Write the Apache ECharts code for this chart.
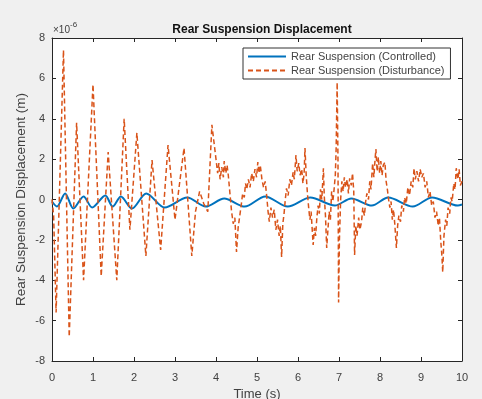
<!DOCTYPE html>
<html>
<head>
<meta charset="utf-8">
<script src="https://cdn.jsdelivr.net/npm/echarts@6/dist/echarts.min.js"></script>
<style>
  html, body { margin: 0; padding: 0; background: #f0f0f0; }
  #chart { width: 482px; height: 399px; }
</style>
</head>
<body>
<div id="chart"></div>
<script>
// values are in units of 1e-6 m (axis shows x10^-6)
const controlledT = [0, 0.12, 0.32, 0.52, 0.77, 0.98, 1.3, 1.48, 1.68, 1.95, 2.3, 2.75, 3.3, 3.75, 4.2, 4.7, 5.2, 5.75, 6.3, 6.9, 7.3, 7.8, 8.2, 8.8, 9.27, 9.9, 10];
const controlledV = [-0.1, -0.35, 0.3, -0.45, 0.15, -0.4, 0.2, -0.35, 0.15, -0.45, 0.3, -0.4, 0.1, -0.35, 0.05, -0.35, 0.15, -0.35, 0.1, -0.3, 0.05, -0.3, 0.1, -0.35, 0.1, -0.3, -0.25];

const disturbT = [0, 0.04, 0.1, 0.28, 0.42, 0.6, 0.77, 1.0, 1.2, 1.37, 1.58, 1.76, 1.9, 2.07, 2.29, 2.44, 2.65, 2.83, 3.0, 3.22, 3.41, 3.5, 3.6, 3.7, 3.8, 3.9,
  4.0, 4.04, 4.07, 4.1, 4.14, 4.18, 4.2, 4.24, 4.27, 4.3, 4.34, 4.38, 4.42, 4.46, 4.5, 4.54, 4.58, 4.62, 4.65, 4.69, 4.72, 4.75, 4.79, 4.83, 4.87, 4.91, 4.95, 4.99,
  5.02, 5.05, 5.08, 5.12, 5.16, 5.2, 5.24, 5.27, 5.3, 5.34, 5.38, 5.42, 5.46, 5.5, 5.54, 5.57, 5.6, 5.63, 5.66, 5.69, 5.72, 5.76, 5.8, 5.84, 5.88, 5.91, 5.95, 5.98,
  6.02, 6.05, 6.09, 6.12, 6.15, 6.17, 6.2, 6.23, 6.26, 6.29, 6.32, 6.35, 6.37, 6.4, 6.43, 6.46, 6.49, 6.52, 6.55, 6.58, 6.62, 6.64, 6.67, 6.7, 6.73, 6.76, 6.79,
  6.82, 6.85, 6.88, 6.91, 6.93, 6.955, 6.975, 6.99,
  7.01, 7.04, 7.07, 7.1, 7.13, 7.16, 7.2, 7.23, 7.26, 7.3, 7.33, 7.36, 7.38, 7.41, 7.44, 7.48, 7.51, 7.55, 7.58, 7.62, 7.65, 7.68, 7.72, 7.75, 7.78, 7.82, 7.85,
  7.88, 7.9, 7.93, 7.96, 7.99, 8.02, 8.05, 8.08, 8.12, 8.15, 8.18, 8.21, 8.24, 8.27, 8.3, 8.33, 8.36, 8.4, 8.43, 8.46, 8.5, 8.53, 8.57, 8.6, 8.64, 8.68, 8.72,
  8.76, 8.8, 8.83, 8.86, 8.9, 8.94, 8.98, 9.02, 9.06, 9.1, 9.14, 9.18, 9.22, 9.26, 9.3, 9.34, 9.38, 9.42, 9.45, 9.48, 9.51, 9.53, 9.56, 9.6, 9.63, 9.66, 9.7,
  9.73, 9.76, 9.8, 9.83, 9.86, 9.9, 9.93, 9.96, 10];
const disturbV = [0, -0.8, -5.6, 7.4, -6.8, 3.8, -4.0, 5.7, -3.8, 2.35, -4.0, 4.0, -1.5, 3.3, -2.8, 1.95, -2.5, 2.7, -1.0, 2.55, -2.8, -0.6, 0.4, -0.2, -0.6, 3.7,
  2.0, 1.3, 1.8, 1.0, 1.6, 1.1, 1.9, 1.3, 1.7, 1.2, 0.3, -0.6, -1.2, -0.9, -2.6, -1.4, -0.8, -0.2, 0.3, 0.1, 0.8, 0.5, 1.0, 0.6, 1.3, 0.9, 1.5, 1.1,
  1.85, 1.3, 1.7, 1.0, 0.6, 0.9, 0.1, -0.6, -1.1, -0.4, -0.9, -0.5, -1.5, -1.0, -1.8, -1.3, -2.85, -1.2, -0.7, 0.0, 0.55, 0.2, 1.0, 0.7, 1.35, 1.0, 2.2, 1.4,
  1.8, 1.2, 1.5, 0.8, 1.3, 2.55, 1.2, 0.3, -0.4, -1.0, -0.6, -1.6, -2.25, -1.4, -1.8, -0.9, -0.3, -0.7, 0.5, 0.0, 1.55, 0.2, -0.8, -2.4, -1.5, -0.6, -1.0,
  0.4, -0.1, 0.5, 1.2, 2.5, 5.8, 2.0, -5.1,
  -2.0, 0.0, 0.9, 0.4, 1.1, 0.6, 1.0, 0.3, 1.05, 0.7, 1.3, 0.4, -2.75, -1.3, -1.8, -0.9, -1.5, -1.1, -0.4, -0.8, -0.1, 0.3, 0.0, 0.9, 0.5, 1.8, 1.1,
  2.0, 2.5, 1.4, 2.1, 1.3, 1.9, 1.2, 1.7, 1.85, 0.9, 0.5, 0.0, -0.4, -0.1, -1.0, -0.5, -1.2, -2.4, -1.3, -0.8, -1.1, -0.3, -0.6, 0.1, -0.2, 0.6, 0.2,
  0.9, 0.6, 1.55, 1.0, 1.4, 0.9, 1.5, 1.1, 1.3, 0.6, 0.9, 0.1, 0.4, -0.3, -0.1, -0.9, -0.6, -1.3, -0.9, -2.0, -2.8, -3.6, -1.8, -1.0, -1.3, -0.4, -0.7,
  0.1, -0.1, 0.8, 0.5, 1.55, 1.0, 1.5, 0.7, 0.9];

const xTicks = { min: 0, max: 10, interval: 1 };
const yTicks = { min: -8, max: 8, interval: 2 };

const labelColor = '#404040';
const axisColor = '#262626';
const font = 'Liberation Sans, Arial, sans-serif';

const chart = echarts.init(document.getElementById('chart'));

function axisBase(extra) {
    return Object.assign({
        type: 'value',
        axisLine: { show: true, onZero: false, lineStyle: { color: axisColor, width: 1 } },
        axisTick: { show: true, inside: true, length: 4, lineStyle: { color: axisColor } },
        splitLine: { show: false },
        axisLabel: { color: labelColor, fontSize: 11, fontFamily: font }
    }, extra);
}

chart.setOption({
    backgroundColor: '#f0f0f0',
    animation: false,
    title: {
        text: 'Rear Suspension Displacement',
        left: 257, textAlign: 'center', top: 19,
        textStyle: { fontSize: 12, fontWeight: 'bold', color: '#111', fontFamily: font }
    },
    grid: {
        left: 52, right: 20, top: 38, bottom: 38,
        outerBoundsMode: 'none',
        show: true, backgroundColor: '#ffffff', borderColor: axisColor, borderWidth: 0
    },
    legend: {
        orient: 'vertical',
        left: 243, top: 48,
        padding: [3, 6, 3, 4],
        itemGap: 3,
        itemWidth: 38, itemHeight: 10,
        backgroundColor: '#ffffff',
        borderColor: '#333', borderWidth: 1,
        itemStyle: { opacity: 0 },
        textStyle: { fontSize: 11, color: '#444', fontFamily: font },
        data: ['Rear Suspension (Controlled)', 'Rear Suspension (Disturbance)']
    },
    graphic: [{
        type: 'text', left: 53, top: 21,
        style: {
            text: '{a|\u00d710}{b|-6}',
            rich: {
                a: { fontSize: 10, fill: labelColor, fontFamily: font, padding: [4, 0, 0, 0] },
                b: { fontSize: 8, fill: labelColor, fontFamily: font, verticalAlign: 'top' }
            }
        }
    }],
    xAxis: [
        axisBase(Object.assign({
            position: 'bottom',
            name: 'Time (s)', nameLocation: 'middle', nameGap: 27,
            nameMoveOverlap: false,
            nameTextStyle: { color: labelColor, fontSize: 13, fontFamily: font },
            axisLabel: { color: labelColor, fontSize: 11, fontFamily: font, margin: 11 }
        }, xTicks)),
        axisBase(Object.assign({ position: 'top', axisLabel: { show: false } }, xTicks))
    ],
    yAxis: [
        axisBase(Object.assign({
            position: 'left',
            name: 'Rear Suspension Displacement (m)', nameLocation: 'middle', nameGap: 24,
            nameMoveOverlap: false,
            nameTextStyle: { color: labelColor, fontSize: 13.5, fontFamily: font },
            axisLabel: { color: labelColor, fontSize: 11, fontFamily: font, margin: 7 }
        }, yTicks)),
        axisBase(Object.assign({ position: 'right', axisLabel: { show: false } }, yTicks))
    ],
    series: [
        {
            name: 'Rear Suspension (Controlled)',
            type: 'line',
            data: controlledT.map((t, i) => [t, controlledV[i]]),
            showSymbol: false, symbol: 'none',
            smooth: 0.3,
            z: 3,
            lineStyle: { color: '#0072BD', width: 2 },
            itemStyle: { color: '#0072BD' }
        },
        {
            name: 'Rear Suspension (Disturbance)',
            type: 'line',
            data: disturbT.map((t, i) => [t, disturbV[i]]),
            showSymbol: false, symbol: 'none',
            z: 4,
            lineStyle: { color: '#D95319', width: 1.5, type: [5, 3] },
            itemStyle: { color: '#D95319' }
        }
    ]
});
</script>
</body>
</html>
